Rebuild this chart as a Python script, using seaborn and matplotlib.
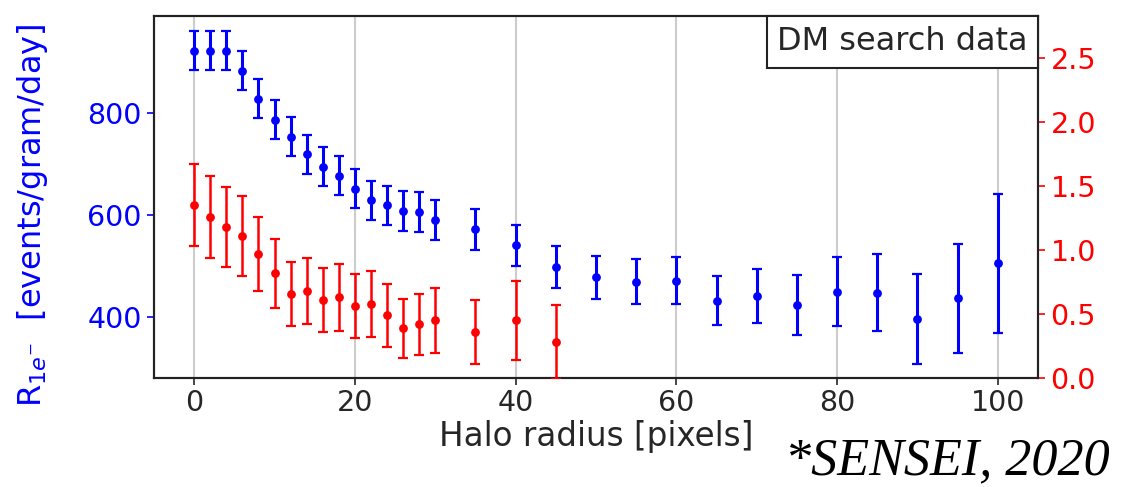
import numpy as np
import pandas as pd
import matplotlib
matplotlib.use("Agg")
import matplotlib.pyplot as plt
import seaborn as sns
from matplotlib.offsetbox import AnchoredText

# ---- data ----
blue_x = [0, 2, 4, 6, 8, 10, 12, 14, 16, 18, 20, 22, 24, 26, 28, 30,
          35, 40, 45, 50, 55, 60, 65, 70, 75, 80, 85, 90, 95, 100]
blue_y = [921, 921, 921, 882, 827, 786, 753, 719, 694, 677, 651, 629, 619, 608, 605, 590,
          572, 541, 499, 478, 469, 471, 432, 441, 424, 450, 448, 397, 437, 505]
blue_err = [38, 38, 38, 38, 38, 38, 38, 38, 38, 38, 38, 38, 38, 39, 39, 39,
            40, 40, 41, 42, 44, 46, 48, 53, 58, 67, 76, 88, 107, 135]

red_x = [0, 2, 4, 6, 8, 10, 12, 14, 16, 18, 20, 22, 24, 26, 28, 30, 35, 40, 45]
red_y = [1.35, 1.26, 1.18, 1.11, 0.97, 0.82, 0.66, 0.68, 0.61, 0.63, 0.56, 0.58, 0.49,
         0.39, 0.42, 0.45, 0.36, 0.45, 0.28]
red_err = [0.32, 0.32, 0.31, 0.31, 0.29, 0.27, 0.25, 0.255, 0.25, 0.26, 0.25, 0.26, 0.245,
           0.23, 0.24, 0.255, 0.25, 0.31, 0.29]

x_ticks = [0, 20, 40, 60, 80, 100]
left_ticks = [400, 600, 800]
right_ticks = [0.0, 0.5, 1.0, 1.5, 2.0, 2.5]

x_label = "Halo radius [pixels]"
y_label = r"R$_{1e^{-}}$  [events/gram/day]"
box_text = "DM search data"
credit = "*SENSEI, 2020"

blue_df = pd.DataFrame({"x": blue_x, "y": blue_y, "err": blue_err})
red_df = pd.DataFrame({"x": red_x, "y": red_y, "err": red_err})

# ---- style ----
sns.set_theme(style="whitegrid")
plt.rcParams["font.family"] = ["DejaVu Sans"]

fig = plt.figure(figsize=(11.21, 4.87), dpi=100)
ax = fig.add_axes([0.1374, 0.2238, 0.7885, 0.7432])
ax2 = ax.twinx()

BLUE = "#0000ff"
RED = "#ff0000"

ax.errorbar(blue_df["x"], blue_df["y"], yerr=blue_df["err"], fmt="none",
            ecolor=BLUE, elinewidth=2.2, capsize=3.5, capthick=1.6, zorder=3)
sns.scatterplot(data=blue_df, x="x", y="y", ax=ax, color=BLUE, s=40,
                edgecolor=BLUE, linewidth=0, zorder=4, legend=False)

ax2.errorbar(red_df["x"], red_df["y"], yerr=red_df["err"], fmt="none",
             ecolor=RED, elinewidth=1.8, capsize=3.5, capthick=1.6, zorder=3)
sns.scatterplot(data=red_df, x="x", y="y", ax=ax2, color=RED, s=40,
                edgecolor=RED, linewidth=0, zorder=4, legend=False)

ax.set_xlim(-5, 105)
ax.set_ylim(281, 989)
ax2.set_ylim(0, 2.83)

ax.set_xticks(x_ticks)
ax.set_yticks(left_ticks)
ax2.set_yticks(right_ticks)
ax2.set_yticklabels([f"{v:.1f}" for v in right_ticks])

ax.grid(axis="x", color="#cccccc", linewidth=1.5)
ax.grid(axis="y", visible=False)
ax2.grid(False)

for a in (ax, ax2):
    for s in a.spines.values():
        s.set_color("#222222")
        s.set_linewidth(1.5)

ax.tick_params(axis="x", colors="#262626", labelsize=20.5, length=5, width=1.2,
               direction="out", bottom=True, pad=3)
ax.tick_params(axis="y", colors=BLUE, labelsize=20.5, length=5, width=1.2,
               direction="out", left=True, pad=4)
ax2.tick_params(axis="y", colors=RED, labelsize=20.5, length=5, width=1.2,
                direction="out", right=True, pad=4)

ax.set_xlabel(x_label, fontsize=23.5, color="#262626", labelpad=2)
ax.set_ylabel(y_label, fontsize=23, color=BLUE)
ax.yaxis.set_label_coords(-0.118, 0.45)
ax2.set_ylabel("")

at = AnchoredText(box_text, loc="upper right", frameon=True, borderpad=0.0,
                  pad=0.32, prop=dict(size=23, color="#262626"))
at.patch.set_boxstyle("square,pad=0")
at.patch.set_edgecolor("#222222")
at.patch.set_linewidth(1.5)
ax2.add_artist(at)
at.set_zorder(10)

fig.text(0.99, 0.025, credit, ha="right", va="baseline", fontsize=37.5,
         family="Liberation Serif", style="italic", color="black")

fig.savefig("out.png", dpi=100)
